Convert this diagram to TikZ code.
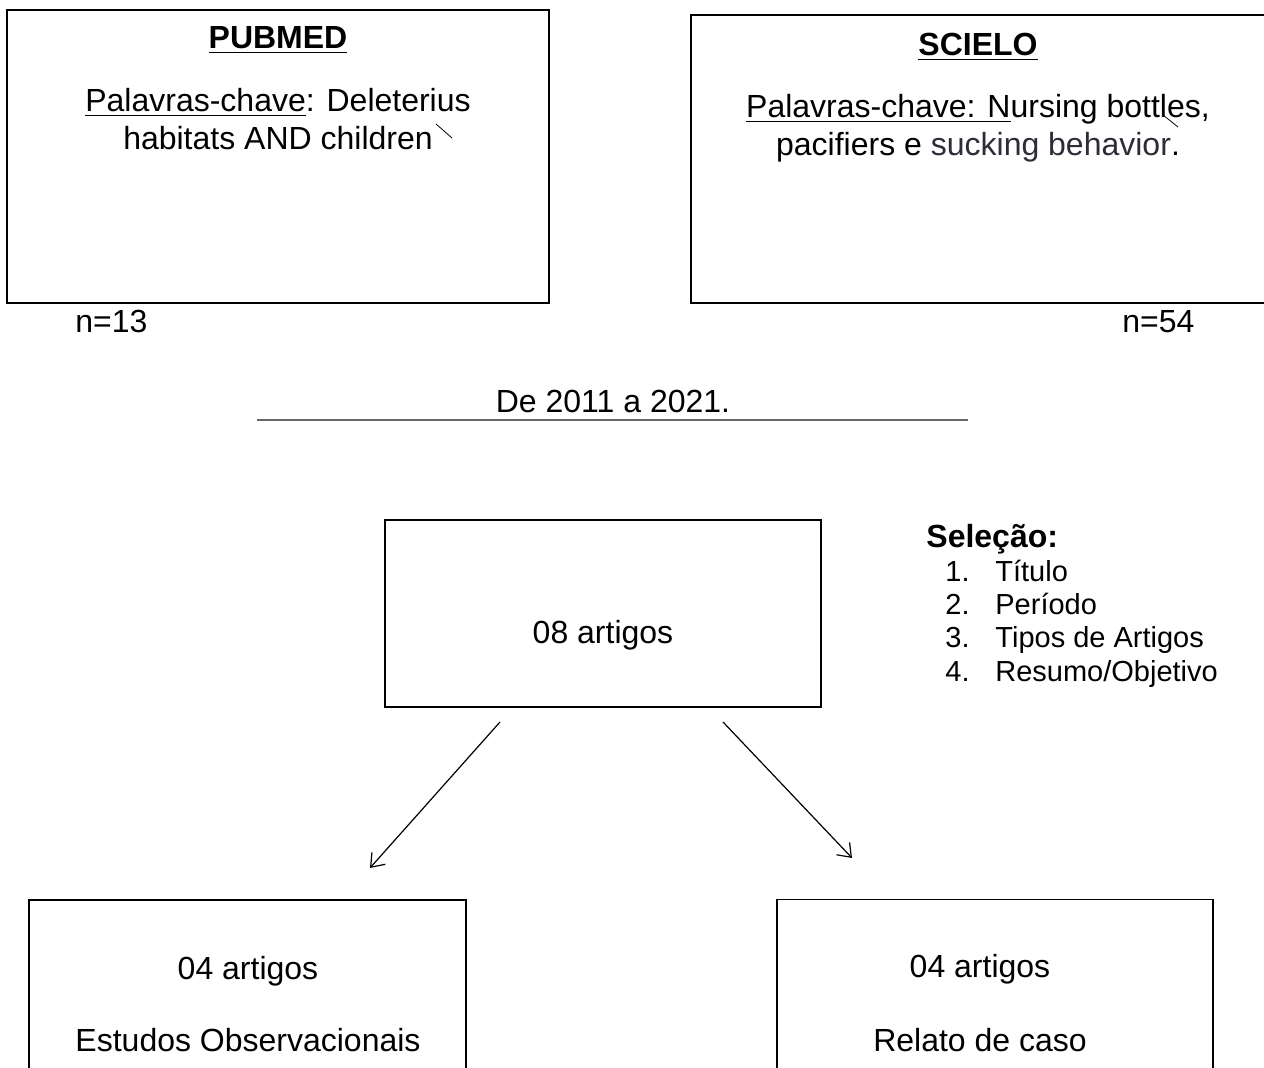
\documentclass[tikz,border=0pt]{standalone}
\usepackage{fontspec}
\setmainfont{Liberation Sans}
\usetikzlibrary{arrows.meta,positioning}
\definecolor{inkgray}{RGB}{45,45,55}

\begin{document}
\begin{tikzpicture}[x=0.5pt, y=-0.5pt, every node/.style={font=\fontsize{16}{19}\selectfont, inner sep=0pt},
  box/.style={draw, line width=0.75pt},
  txt/.style={anchor=base, align=center},
  item/.style={anchor=base west, font=\fontsize{14.5}{16.5}\selectfont},
  arr/.style={-{Straight Barb[length=6pt, width=9pt]}, line width=0.6pt}]
\useasboundingbox (0,0) rectangle (1264,1068);
% search boxes
\node[box, minimum width=271pt, minimum height=146.5pt] (pubmed) at (278,156.5) {};
\node[box, minimum width=287.5pt, minimum height=144pt] (scielo) at (978.5,159) {};
\node[txt] (pubmedT) at (278,49) {\textbf{\underline{PUBMED}}};
\node[txt] (pubmedK) at (278,150) {\underline{Palavras-chave}: Deleterius\\habitats AND children};
\node[txt] (scieloT) at (978,56) {\textbf{\underline{SCIELO}}};
\node[txt] (scieloK) at (978,156) {\underline{Palavras-chave: N}ursing bottles,\\pacifiers e \textcolor{inkgray}{sucking behavior}.};
\draw[line width=0.4pt] (436,124) -- (452,138);
\draw[line width=0.4pt] (1163,115) -- (1178,127);
\node[anchor=base west] (n13) at (75,333) {n=13};
\node[anchor=base west] (n54) at (1122,333) {n=54};
\node[txt] (period) at (613,413) {De 2011 a 2021.};
\coordinate (lineA) at (257,420); \coordinate (lineB) at (968,420);
\draw[gray!80!black, line width=0.8pt] (lineA) -- (lineB);
% selection
\node[box, line width=1.1pt, minimum width=218pt, minimum height=93.5pt] (sel) at (603,613.5) {};
\node[txt] (selT) at (603,644) {08 artigos};
\node[anchor=base west, font=\fontsize{16}{19}\selectfont\bfseries] (crit) at (926,548) {Seleção:};
\node[item] (c1) at (945,582) {\makebox[25pt][l]{1.}Título};
\node[item] (c2) at (945,615) {\makebox[25pt][l]{2.}Período};
\node[item] (c3) at (945,648) {\makebox[25pt][l]{3.}Tipos de Artigos};
\node[item] (c4) at (945,682) {\makebox[25pt][l]{4.}Resumo/Objetivo};
% results
\node[box, minimum width=218.5pt, minimum height=95pt] (obs) at (247.5,995) {};
\node[box, minimum width=218pt, minimum height=95pt] (caso) at (995,994.5) {};
\node[txt] (obsN) at (248,979) {04 artigos};
\node[txt] (obsT) at (248,1051) {Estudos Observacionais};
\node[txt] (casoN) at (980,977) {04 artigos};
\node[txt] (casoT) at (980,1051) {Relato de caso};
\coordinate (l0) at (500,722); \coordinate (l1) at (370,868);
\coordinate (r0) at (723,722); \coordinate (r1) at (852,858);
\draw[arr] (l0) -- (l1); \draw[arr] (r0) -- (r1);
\end{tikzpicture}
\end{document}
